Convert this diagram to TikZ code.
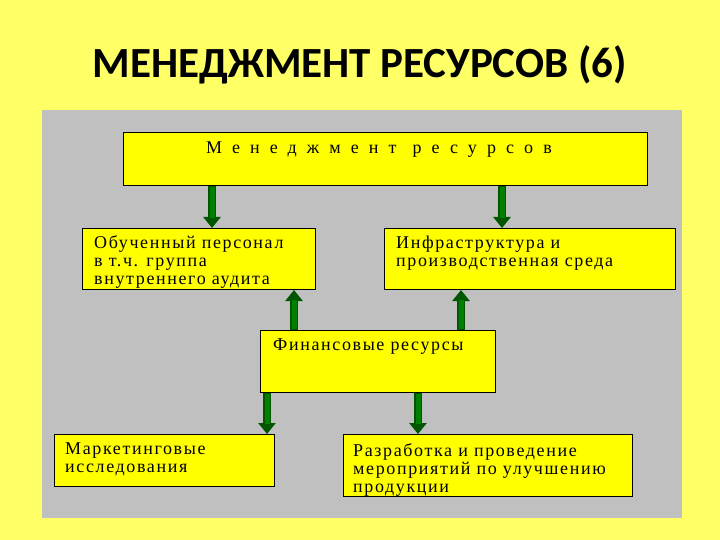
\documentclass[tikz,border=0pt]{standalone}
\usepackage{fontspec}
\setmainfont{Liberation Serif}
\newfontfamily\titlefont{Carlito}
\newfontfamily\spacedfont[LetterSpace=56]{Liberation Serif}
\newfontfamily\bodyfont[LetterSpace=9]{Liberation Serif}
\usetikzlibrary{arrows.meta}
\definecolor{bgyellow}{RGB}{255,255,102}
\definecolor{panelgrey}{RGB}{192,192,192}
\definecolor{boxyellow}{RGB}{255,255,0}
\definecolor{arrgreen}{RGB}{0,128,0}
\definecolor{arrdark}{RGB}{0,85,0}
\tikzset{
  box/.style={draw=black, line width=1pt, fill=boxyellow, anchor=north west, inner sep=0pt},
  txt/.style={anchor=north west, inner sep=0pt, align=left, font=\bodyfont\fontsize{18}{18}\selectfont},
  arrout/.style={draw=arrdark, line width=8pt, -{Triangle[width=17pt,length=11pt]}},
  arrin/.style={draw=arrgreen, line width=5pt, shorten >=10pt, shorten <=1pt}
}
\begin{document}
\begin{tikzpicture}[x=1pt,y=-1pt]
\useasboundingbox (0,0) rectangle (720,540);
\fill[bgyellow] (0,0) rectangle (720,540);
\node[anchor=base, inner sep=0pt, font=\titlefont\bfseries\fontsize{43}{46}\selectfont] (title) at (360,78) {МЕНЕДЖМЕНТ РЕСУРСОВ (6)};
\fill[panelgrey] (42,110) rectangle (682,518);
% boxes
\node[box, minimum width=524pt, minimum height=53pt] (top) at (123,132) {};
\node[box, minimum width=233pt, minimum height=61pt] (pers) at (82,228) {};
\node[box, minimum width=291pt, minimum height=61pt] (infra) at (384,228) {};
\node[box, minimum width=235pt, minimum height=62pt] (fin) at (260,330) {};
\node[box, minimum width=220pt, minimum height=52pt] (mark) at (54,434) {};
\node[box, minimum width=289pt, minimum height=62pt] (dev) at (343,434) {};
% texts
\node[anchor=base, inner sep=0pt, font=\spacedfont\fontsize{18}{20}\selectfont] (toptxt) at (379,154) {Менеджмент\hspace{16pt}ресурсов};
\node[txt] (perstxt) at (94,235.5) {Обученный персонал\\в т.ч. группа\\внутреннего аудита};
\node[txt] (infratxt) at (396,236) {Инфраструктура и\\производственная среда};
\node[txt] (fintxt) at (273,339) {Финансовые ресурсы};
\node[txt] (marktxt) at (65,443) {Маркетинговые\\исследования};
\node[txt] (devtxt) at (353,443) {Разработка и проведение\\мероприятий по улучшению\\продукции};
% arrows
\foreach \xx/\a/\b/\sa/\sb in {212/top/pers/south/north, 502/top/infra/south/north,
  294/fin/pers/north/south, 461/fin/infra/north/south,
  267/fin/mark/south/north, 418/fin/dev/south/north}{
  \draw[arrout] (\xx,0 |- \a.\sa) -- (\xx,0 |- \b.\sb);
  \draw[arrin] (\xx,0 |- \a.\sa) -- (\xx,0 |- \b.\sb);
}
\end{tikzpicture}
\end{document}
